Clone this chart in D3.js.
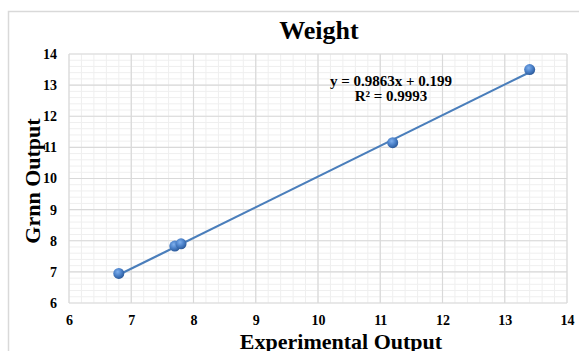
<!DOCTYPE html>
<html>
<head>
<meta charset="utf-8">
<script src="https://cdn.jsdelivr.net/npm/d3@7"></script>
<style>
  body { margin: 0; background: #fff; }
  text { font-family: "Liberation Serif", "Times New Roman", serif; font-weight: bold; fill: #000; }
</style>
</head>
<body>
<div id="chart"></div>
<script>
// measured points (experimental vs grnn)
var experimental = [6.8, 7.7, 7.8, 11.2, 13.4];
var grnn = [6.95, 7.83, 7.9, 11.15, 13.5];
var xTicks = [6, 7, 8, 9, 10, 11, 12, 13, 14];
var yTicks = [6, 7, 8, 9, 10, 11, 12, 13, 14];
var slope = 0.9863, intercept = 0.199;
var eqLines = ["y = 0.9863x + 0.199", "R\u00b2 = 0.9993"];

var width = 579, height = 351;
// plot area edges (not "top", that name is taken by window.top)
var pLeft = 69, pRight = 567, pTop = 54, pBottom = 303;

var svg = d3.select('#chart').append('svg')
  .attr('width', width)
  .attr('height', height);

// outer chart border (runs off right and bottom edges)
svg.append('rect')
  .attr('x', 8.5).attr('y', 11.5)
  .attr('width', 600).attr('height', 400)
  .style('fill', 'none')
  .style('stroke', '#d9d9d9')
  .style('stroke-width', 1.5);

var x = d3.scaleLinear().domain([6, 14]).range([pLeft, pRight]);
var y = d3.scaleLinear().domain([6, 14]).range([pBottom, pTop]);

var defs = svg.append('defs');
var grad = defs.append('radialGradient')
  .attr('id', 'ball')
  .attr('cx', '40%').attr('cy', '35%').attr('r', '65%');
grad.append('stop').attr('offset', '0%').attr('stop-color', '#7fb0ee');
grad.append('stop').attr('offset', '55%').attr('stop-color', '#4a80c8');
grad.append('stop').attr('offset', '100%').attr('stop-color', '#2c5a9a');

// minor grid, 5 steps between each major line
var minor = d3.range(6, 14.001, 0.2);
svg.append('g').selectAll('line')
  .data(minor).enter().append('line')
  .attr('x1', function(d) { return x(d) }).attr('x2', function(d) { return x(d) })
  .attr('y1', pTop).attr('y2', pBottom)
  .style('stroke', '#efefef');
svg.append('g').selectAll('line')
  .data(minor).enter().append('line')
  .attr('y1', function(d) { return y(d) }).attr('y2', function(d) { return y(d) })
  .attr('x1', pLeft).attr('x2', pRight)
  .style('stroke', '#efefef');

// major grid
svg.append('g').selectAll('line')
  .data(xTicks).enter().append('line')
  .attr('x1', function(d) { return x(d) }).attr('x2', function(d) { return x(d) })
  .attr('y1', pTop).attr('y2', pBottom)
  .style('stroke', '#d9d9d9').style('stroke-width', 1.2);
svg.append('g').selectAll('line')
  .data(yTicks).enter().append('line')
  .attr('y1', function(d) { return y(d) }).attr('y2', function(d) { return y(d) })
  .attr('x1', pLeft).attr('x2', pRight)
  .style('stroke', '#d9d9d9').style('stroke-width', 1.2);

// tick labels via d3 axes, lines hidden
var xAxis = svg.append('g')
  .attr('transform', 'translate(0,' + pBottom + ')')
  .call(d3.axisBottom(x).tickValues(xTicks).tickSize(0).tickPadding(12));
var yAxis = svg.append('g')
  .attr('transform', 'translate(' + pLeft + ',0)')
  .call(d3.axisLeft(y).tickValues(yTicks).tickSize(0).tickPadding(12));
[xAxis, yAxis].forEach(function(a) {
  a.select('.domain').remove();
  a.attr('font-size', null).attr('font-family', null);
  a.selectAll('text')
    .style('font-family', '"Liberation Serif", serif')
    .style('font-weight', 'bold')
    .style('font-size', '14px');
});

// trendline from min to max x
var xs = d3.extent(experimental);
svg.append('line')
  .attr('x1', x(xs[0])).attr('y1', y(slope * xs[0] + intercept))
  .attr('x2', x(xs[1])).attr('y2', y(slope * xs[1] + intercept))
  .style('stroke', '#4a7ebb')
  .style('stroke-width', 2.2);

svg.append('g').selectAll('circle')
  .data(experimental).enter().append('circle')
  .attr('cx', function(d) { return x(d) })
  .attr('cy', function(d, i) { return y(grnn[i]) })
  .attr('r', 5.5)
  .style('fill', 'url(#ball)');

// equation
svg.append('g').selectAll('text')
  .data(eqLines).enter().append('text')
  .attr('x', 391)
  .attr('y', function(d, i) { return 86 + i * 15 })
  .attr('text-anchor', 'middle')
  .style('font-size', '15px')
  .text(function(d) { return d });

svg.append('text')
  .attr('x', 319).attr('y', 39)
  .attr('text-anchor', 'middle')
  .style('font-size', '26px')
  .text('Weight');

svg.append('text')
  .attr('x', 341).attr('y', 349)
  .attr('text-anchor', 'middle')
  .style('font-size', '22px')
  .text('Experimental Output');

svg.append('text')
  .attr('transform', 'translate(40,181) rotate(-90)')
  .attr('text-anchor', 'middle')
  .style('font-size', '22px')
  .text('Grnn Output');
</script>
</body>
</html>
